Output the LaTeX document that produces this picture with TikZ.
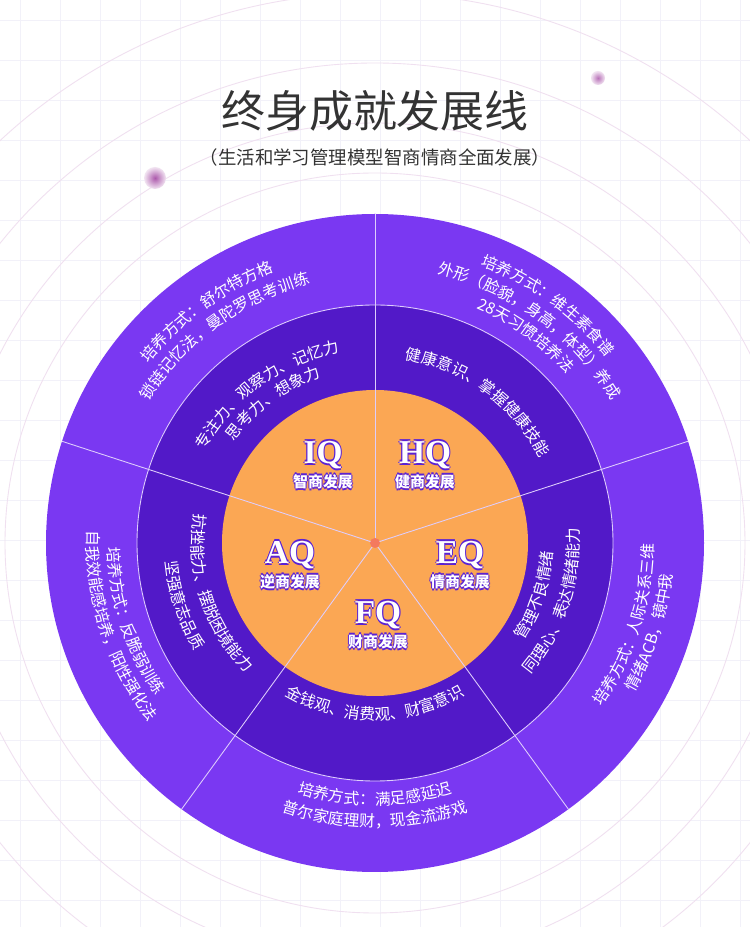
\documentclass[tikz,border=0pt]{standalone}
\usepackage{fontspec}
\setmainfont{Noto Sans CJK SC}
\newfontfamily\qfont{Liberation Serif}
\usetikzlibrary{decorations.text}

\definecolor{ringout}{HTML}{7A38F2}
\definecolor{ringmid}{HTML}{5219C8}
\definecolor{core}{HTML}{FBA754}
\definecolor{dotc}{HTML}{F47A5E}
\definecolor{titlec}{HTML}{333333}
\definecolor{qpurple}{HTML}{5A22D6}
\definecolor{gridc}{HTML}{F2F1F9}

% outlined label text
\newcommand\glowtext[1]{%
  \makebox[0pt]{\color{qpurple}\hspace{1.2pt}#1}%
  \makebox[0pt]{\color{qpurple}\hspace{-1.2pt}#1}%
  \makebox[0pt]{\color{qpurple}\raisebox{1.2pt}{#1}}%
  \makebox[0pt]{\color{qpurple}\raisebox{-1.2pt}{#1}}%
  \makebox[0pt]{\color{white}#1}}

% text along an arc: radius, start angle, end angle, text
\newcommand\arctext[4]{%
  \path[decorate, decoration={text along path, text align=center,
    text color=white, text={|\fontsize{9}{10}\selectfont|#4}}]
    (#2:#1) arc[start angle=#2, end angle=#3, radius=#1];}

\tikzset{
  divider/.style={draw=white!75!ringout, line width=0.5pt},
  qname/.style={font=\qfont\bfseries\fontsize{19}{20}\selectfont, inner sep=0pt},
  qsub/.style={font=\bfseries\fontsize{8.5}{10}\selectfont, inner sep=0pt},
}

\begin{document}
\begin{tikzpicture}[x=0.02cm, y=0.02cm]
  \useasboundingbox (0,0) rectangle (750,927);
  \fill[white] (0,0) rectangle (750,927);

  % background grid and rings
  \foreach \g in {20,60,...,740} {
    \draw[gridc, line width=0.4pt] (\g,0) -- (\g,927);
  }
  \foreach \g in {27,67,...,907} {
    \draw[gridc, line width=0.4pt] (0,\g) -- (750,\g);
  }
  \foreach \r in {370,420,480,550} {
    \draw[violet!12, line width=0.5pt] (375,384) circle[radius=\r];
  }
  \shade[inner color=violet!55, outer color=violet!10] (598,849) circle[radius=7];
  \shade[inner color=violet!65, outer color=violet!10] (155,749) circle[radius=11];

  % title
  \node[font=\fontsize{25}{28}\selectfont, text=titlec] (title) at (375,816) {终身成就发展线};
  \node[font=\fontsize{10.5}{12}\selectfont, text=titlec] (subtitle) at (375,770) {（生活和学习管理模型智商情商全面发展）};

  \begin{scope}[shift={(375,384)}]
    \fill[ringout] (0,0) circle[radius=329];
    \fill[ringmid] (0,0) circle[radius=238];
    \draw[divider] (0,0) circle[radius=238];
    \fill[core] (0,0) circle[radius=153];
    \foreach \a in {90,18,-54,-126,162} {
      \draw[divider] (0,0) -- (\a:329);
    }
    \fill[dotc] (0,0) circle[radius=5];

    % IQ
    \arctext{289}{162}{90}{培养方式：舒尔特方格}
    \arctext{267}{162}{90}{锁链记忆法，曼陀罗思考训练}
    \arctext{194}{162}{90}{专注力、观察力、记忆力}
    \arctext{174}{162}{90}{思考力、想象力}
    % HQ
    \arctext{297}{90}{18}{培养方式：维生素食谱}
    \arctext{276}{90}{18}{外形（脸貌，身高，体型）养成}
    \arctext{256}{90}{18}{28天习惯培养法}
    \arctext{186}{90}{18}{健康意识、掌握健康技能}
    % EQ
    \arctext{178}{-54}{18}{管理不良情绪}
    \arctext{204}{-54}{18}{同理心、表达情绪能力}
    \arctext{279}{-54}{18}{培养方式：人际关系三维}
    \arctext{299}{-54}{18}{情绪ACB，镜中我}
    % FQ
    \arctext{177}{-126}{-54}{金钱观、消费观、财富意识}
    \arctext{262}{-126}{-54}{培养方式：满足感延迟}
    \arctext{284}{-126}{-54}{普尔家庭理财，现金流游戏}
    % AQ
    \arctext{183}{162}{234}{抗挫能力、摆脱困境能力}
    \arctext{210}{162}{234}{坚强意志品质}
    \arctext{267}{162}{234}{培养方式：反脆弱训练}
    \arctext{288}{162}{234}{自我效能感培养，阳性强化法}
  \end{scope}

  % quotient labels
  \node[qname] (iq) at (323,472) {\glowtext{IQ}};
  \node[qsub] (iqs) at (323,445) {\glowtext{智商发展}};
  \node[qname] (hq) at (425,472) {\glowtext{HQ}};
  \node[qsub] (hqs) at (425,445) {\glowtext{健商发展}};
  \node[qname] (aq) at (290,372) {\glowtext{AQ}};
  \node[qsub] (aqs) at (290,345) {\glowtext{逆商发展}};
  \node[qname] (eq) at (460,372) {\glowtext{EQ}};
  \node[qsub] (eqs) at (460,345) {\glowtext{情商发展}};
  \node[qname] (fq) at (378,312) {\glowtext{FQ}};
  \node[qsub] (fqs) at (378,285) {\glowtext{财商发展}};
\end{tikzpicture}
\end{document}
